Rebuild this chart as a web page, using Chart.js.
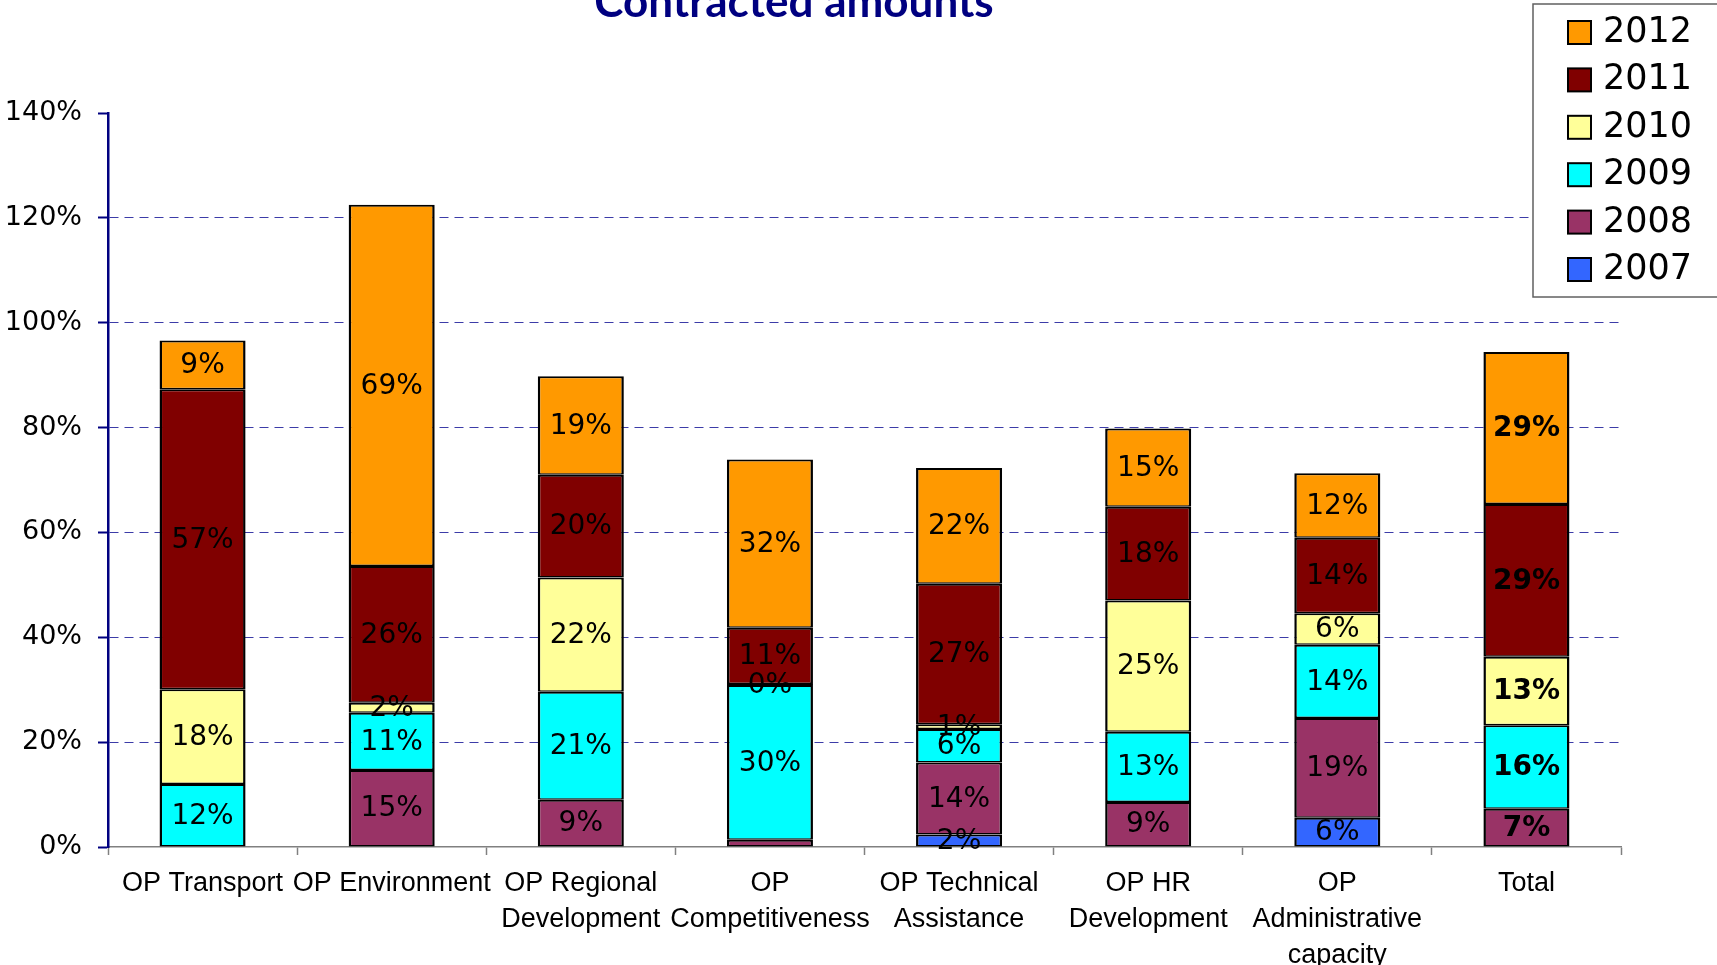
<!DOCTYPE html>
<html>
<head>
<meta charset="utf-8">
<script src="https://cdn.jsdelivr.net/npm/chart.js@4.4.0/dist/chart.umd.min.js"></script>
<style>
  html, body { margin: 0; padding: 0; background: #fff; }
</style>
</head>
<body>
<canvas id="chart" width="1717" height="965"></canvas>
<script>
// categories and series, values in % of allocated amount
const categories = [
    'OP Transport',
    'OP Environment',
    ['OP Regional', 'Development'],
    ['OP', 'Competitiveness'],
    ['OP Technical', 'Assistance'],
    ['OP HR', 'Development'],
    ['OP', 'Administrative', 'capacity'],
    'Total'
];
const years = ['2007', '2008', '2009', '2010', '2011', '2012'];
const v2007 = [null, null, null, null, 2.4, null, 5.6, null];
const v2008 = [null, 14.7, 9.0, 1.4, 13.7, 8.6, 19.0, 7.3];
const v2009 = [12.0, 10.9, 20.6, 29.5, 6.4, 13.4, 14.0, 15.9];
const v2010 = [18.1, 1.9, 21.8, 0.2, 0.9, 25.0, 6.0, 13.1];
const v2011 = [57.2, 26.1, 19.6, 10.7, 26.8, 17.9, 14.4, 29.1];
const v2012 = [9.3, 68.9, 18.8, 32.1, 22.1, 14.9, 12.3, 29.0];
const colors = ['#3366FF', '#993366', '#00FFFF', '#FFFF99', '#800000', '#FF9900'];
const yTicks = [0, 20, 40, 60, 80, 100, 120, 140];
const hiddenLabels = [{ year: '2008', index: 3 }];

const series = [v2007, v2008, v2009, v2010, v2011, v2012];

const datasets = years.map((y, i) => ({
    label: y,
    data: series[i],
    backgroundColor: colors[i],
    borderColor: '#000',
    borderWidth: { top: 2, bottom: 1.5, left: 2.5, right: 2.5 },
    borderSkipped: false,
    barPercentage: 0.455,
    categoryPercentage: 1
}));

const titlePlugin = {
    id: 'titleText',
    afterDraw(chart) {
        const ctx = chart.ctx;
        ctx.save();
        ctx.fillStyle = '#000080';
        ctx.font = 'bold 44px Lato';
        ctx.textAlign = 'center';
        ctx.textBaseline = 'alphabetic';
        ctx.fillText('Contracted amounts', 794, 17);
        ctx.restore();
    }
};

const valueLabels = {
    id: 'valueLabels',
    afterDatasetsDraw(chart) {
        const ctx = chart.ctx;
        ctx.save();
        ctx.fillStyle = '#000';
        ctx.textAlign = 'center';
        ctx.textBaseline = 'middle';
        chart.data.datasets.forEach((ds, di) => {
            const meta = chart.getDatasetMeta(di);
            meta.data.forEach((bar, i) => {
                const v = ds.data[i];
                if (v === null || v === undefined) return;
                if (hiddenLabels.some(h => h.year === ds.label && h.index === i)) return;
                const bold = i === categories.length - 1;
                ctx.font = (bold ? 'bold ' : '') + '28px "DejaVu Sans"';
                ctx.fillText(Math.round(v) + '%', bar.x, (bar.y + bar.base) / 2 + 1);
            });
        });
        ctx.restore();
    }
};

const boxLegend = {
    id: 'boxLegend',
    afterDraw(chart) {
        const ctx = chart.ctx;
        ctx.save();
        ctx.fillStyle = '#fff';
        ctx.strokeStyle = '#606060';
        ctx.lineWidth = 1.5;
        ctx.fillRect(1533, 4, 200, 293);
        ctx.strokeRect(1533, 4, 200, 293);
        ctx.font = '35px "DejaVu Sans"';
        ctx.textBaseline = 'middle';
        ctx.textAlign = 'left';
        const items = chart.data.datasets.slice().reverse();
        items.forEach((ds, k) => {
            const cy = 32 + k * 47.4;
            ctx.fillStyle = ds.backgroundColor;
            ctx.fillRect(1568, cy - 11, 23, 23);
            ctx.strokeStyle = '#000';
            ctx.lineWidth = 2;
            ctx.strokeRect(1568, cy - 11, 23, 23);
            ctx.fillStyle = '#000';
            ctx.fillText(ds.label, 1603, cy + 1);
        });
        ctx.restore();
    }
};

new Chart(document.getElementById('chart'), {
    type: 'bar',
    data: { labels: categories, datasets: datasets },
    plugins: [titlePlugin, valueLabels, boxLegend],
    options: {
        responsive: false,
        animation: false,
        layout: { padding: { top: 113, right: 96, left: 0, bottom: 0 } },
        plugins: {
            legend: { display: false },
            tooltip: { enabled: false },
            title: { display: false }
        },
        scales: {
            x: {
                stacked: true,
                afterFit(scale) { scale.height = 118; },
                ticks: {
                    color: '#000',
                    font: { family: 'Liberation Sans', size: 27, lineHeight: 1.32 },
                    padding: 11,
                    maxRotation: 0,
                    autoSkip: false
                },
                grid: {
                    offset: true,
                    drawOnChartArea: false,
                    tickLength: 8,
                    tickColor: '#808080',
                    tickWidth: 1.5
                },
                border: { color: '#808080', width: 1.5 }
            },
            y: {
                stacked: true,
                min: 0,
                max: 140,
                afterFit(scale) { scale.width = 108; },
                afterBuildTicks(scale) { scale.ticks = yTicks.map(v => ({ value: v })); },
                ticks: {
                    color: '#000',
                    font: { family: 'DejaVu Sans', size: 27 },
                    padding: 16,
                    callback: v => v + '%'
                },
                grid: {
                    color: c => (c.tick && (c.tick.value === 0 || c.tick.value === 140)) ? 'rgba(0,0,0,0)' : '#3c3ca8',
                    lineWidth: 1,
                    tickLength: 10,
                    tickColor: '#000080',
                    tickWidth: 2
                },
                border: { color: '#000080', width: 2.5, dash: [9, 6] }
            }
        }
    }
});
</script>
</body>
</html>
